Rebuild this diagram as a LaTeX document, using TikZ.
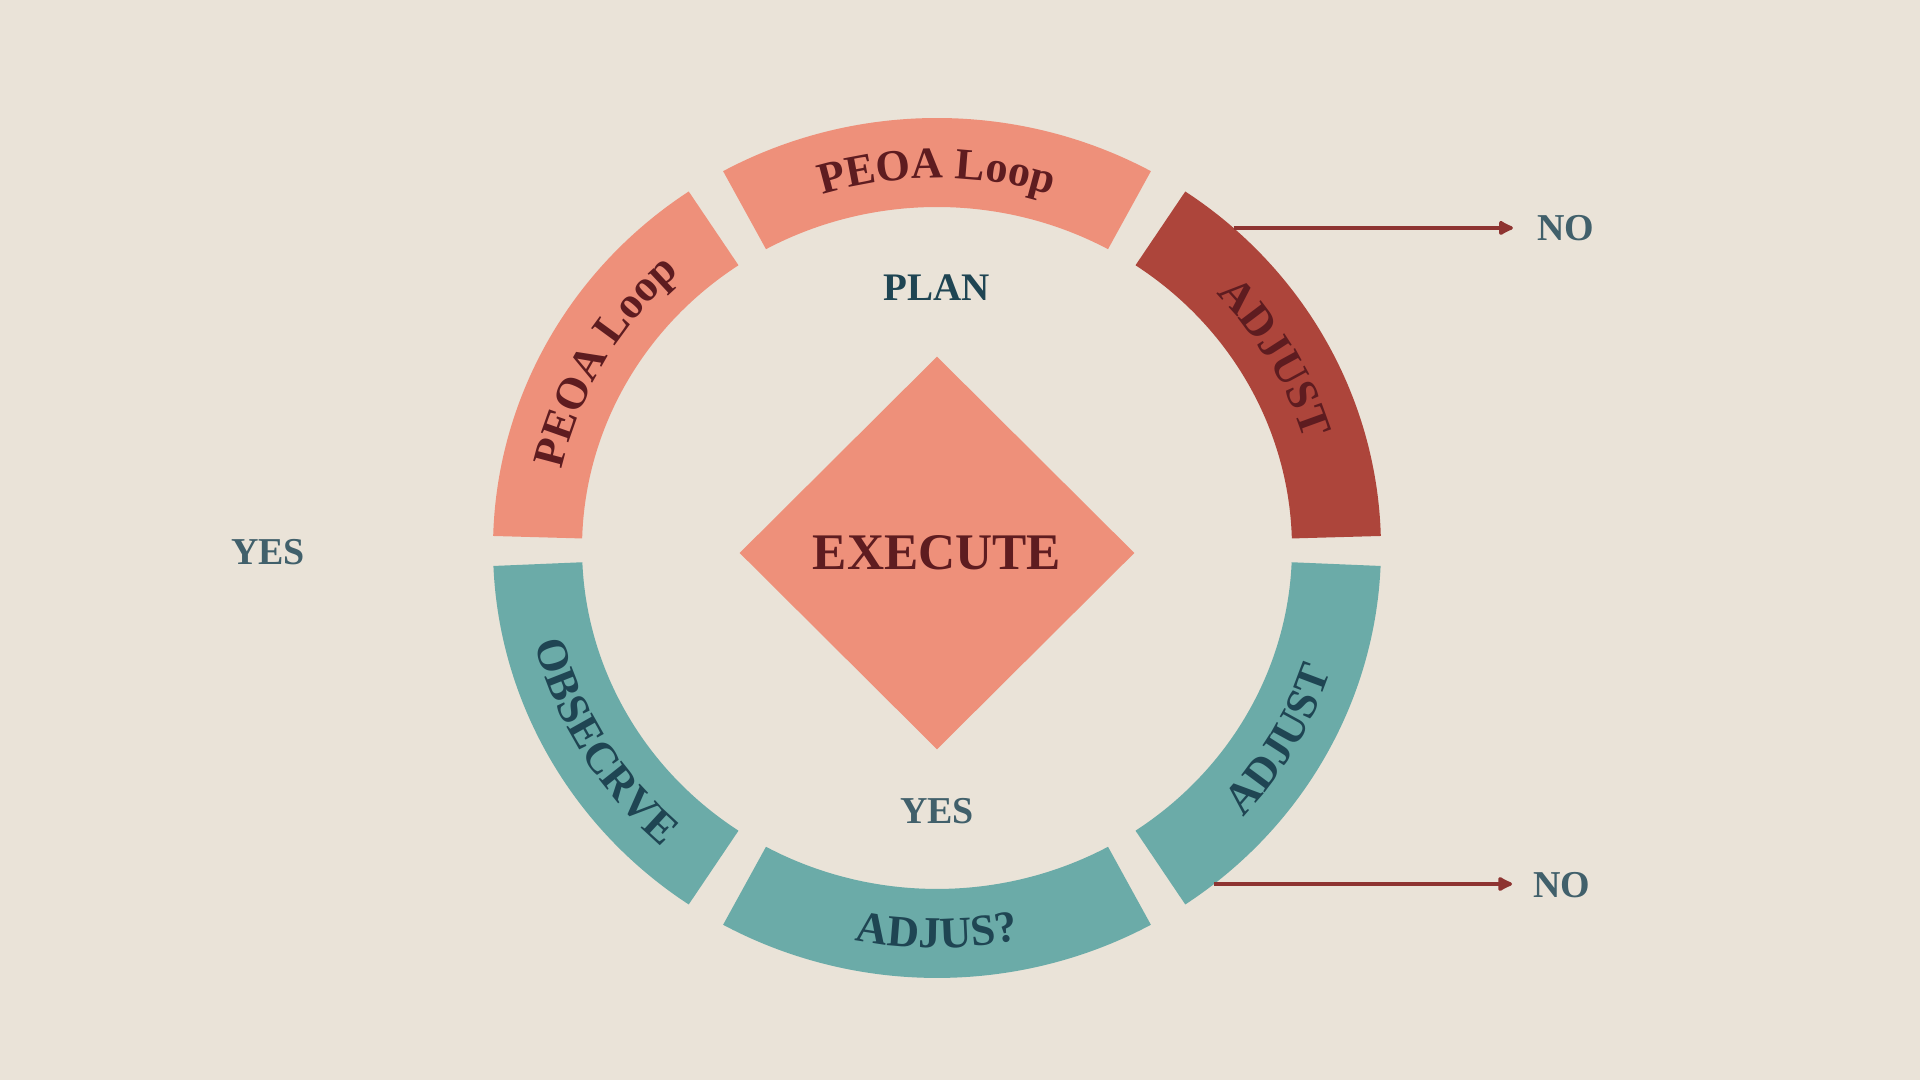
\documentclass[tikz,border=0pt]{standalone}
\usepackage{fontspec}
\setmainfont{Liberation Serif}
\usepackage{xcolor}
\usetikzlibrary{decorations.text,arrows.meta,shapes.geometric}
\definecolor{paper}{HTML}{EAE3D8}
\definecolor{peach}{HTML}{EE907A}
\definecolor{brick}{HTML}{AD453B}
\definecolor{sea}{HTML}{6BABA8}
\definecolor{wine}{HTML}{5E1C20}
\definecolor{ink}{HTML}{1F4553}
\definecolor{slate}{HTML}{41606B}
\definecolor{rust}{HTML}{8E3431}
\newcommand\ringfont{\fontsize{12.6pt}{15pt}\selectfont\bfseries}

\begin{document}
\begin{tikzpicture}[x=0.01cm,y=0.01cm,
  lbl/.style={font=\fontsize{10.8pt}{13pt}\selectfont\bfseries,text=slate,inner sep=0pt},
  ringtext/.style n args={2}{decorate,decoration={text along path,text align=center,text color=#1,text={|\ringfont|#2}}},
  noarrow/.style={rust,line width=1.1pt,-{Latex[round,length=5pt,width=5pt]}}]
\fill[paper] (0,0) rectangle (1920,1080);
\begin{scope}[shift={(937,532)}]
\foreach \a/\b/\c in %
{61.2/118.8/peach,124/178.4/peach,1.6/56/brick,-56/-2.4/sea,182.4/236/sea,241.2/298.8/sea} {
   \fill[\c] (\a:444 and 430) arc[start angle=\a,end angle=\b,x radius=444,y radius=430]
      -- (\b:355 and 341) arc[start angle=\b,end angle=\a,x radius=355,y radius=341] -- cycle;
}
% upper half: clockwise, lower half: counter clockwise
\path[ringtext={wine}{PEOA Loop}] (118:384 and 370) arc[start angle=118,end angle=62,x radius=384,y radius=370];
\path[ringtext={wine}{PEOA Loop}] (178:384 and 370) arc[start angle=178,end angle=122,x radius=384,y radius=370];
\path[ringtext={wine}{ADJUST}] (58:384 and 370) arc[start angle=58,end angle=2,x radius=384,y radius=370];
\path[ringtext={ink}{ADJUST}] (-58:414 and 400) arc[start angle=-58,end angle=-2,x radius=414,y radius=400];
\path[ringtext={ink}{ADJUS?}] (242:414 and 400) arc[start angle=242,end angle=298,x radius=414,y radius=400];
\path[ringtext={ink}{OBSECRVE}] (182:414 and 400) arc[start angle=182,end angle=240,x radius=414,y radius=400];
\coordinate (adjust top) at (48.1:444 and 430);
\coordinate (adjust low) at (-51.4:444 and 430);
\end{scope}
\node[diamond,fill=peach,inner sep=0pt,minimum width=3.95cm,minimum height=3.93cm,
   font=\fontsize{14.6pt}{17pt}\selectfont\bfseries,text=wine] (exec) at (937,527) {EXECUTE};
\node[lbl,text=ink,font=\fontsize{11.1pt}{13pt}\selectfont\bfseries] (plan) at (937,792) {PLAN};
\node[lbl] (yes in) at (937,269) {YES};
\node[lbl] (yes out) at (268,528) {YES};
\node[lbl] (no top) at (1566,852) {NO};
\node[lbl] (no low) at (1562,195) {NO};
\draw[noarrow,shorten >=6.8pt] (adjust top) -- (adjust top -| no top.west);
\draw[noarrow,shorten >=5.9pt] (adjust low) -- (adjust low -| no low.west);
\end{tikzpicture}
\end{document}
